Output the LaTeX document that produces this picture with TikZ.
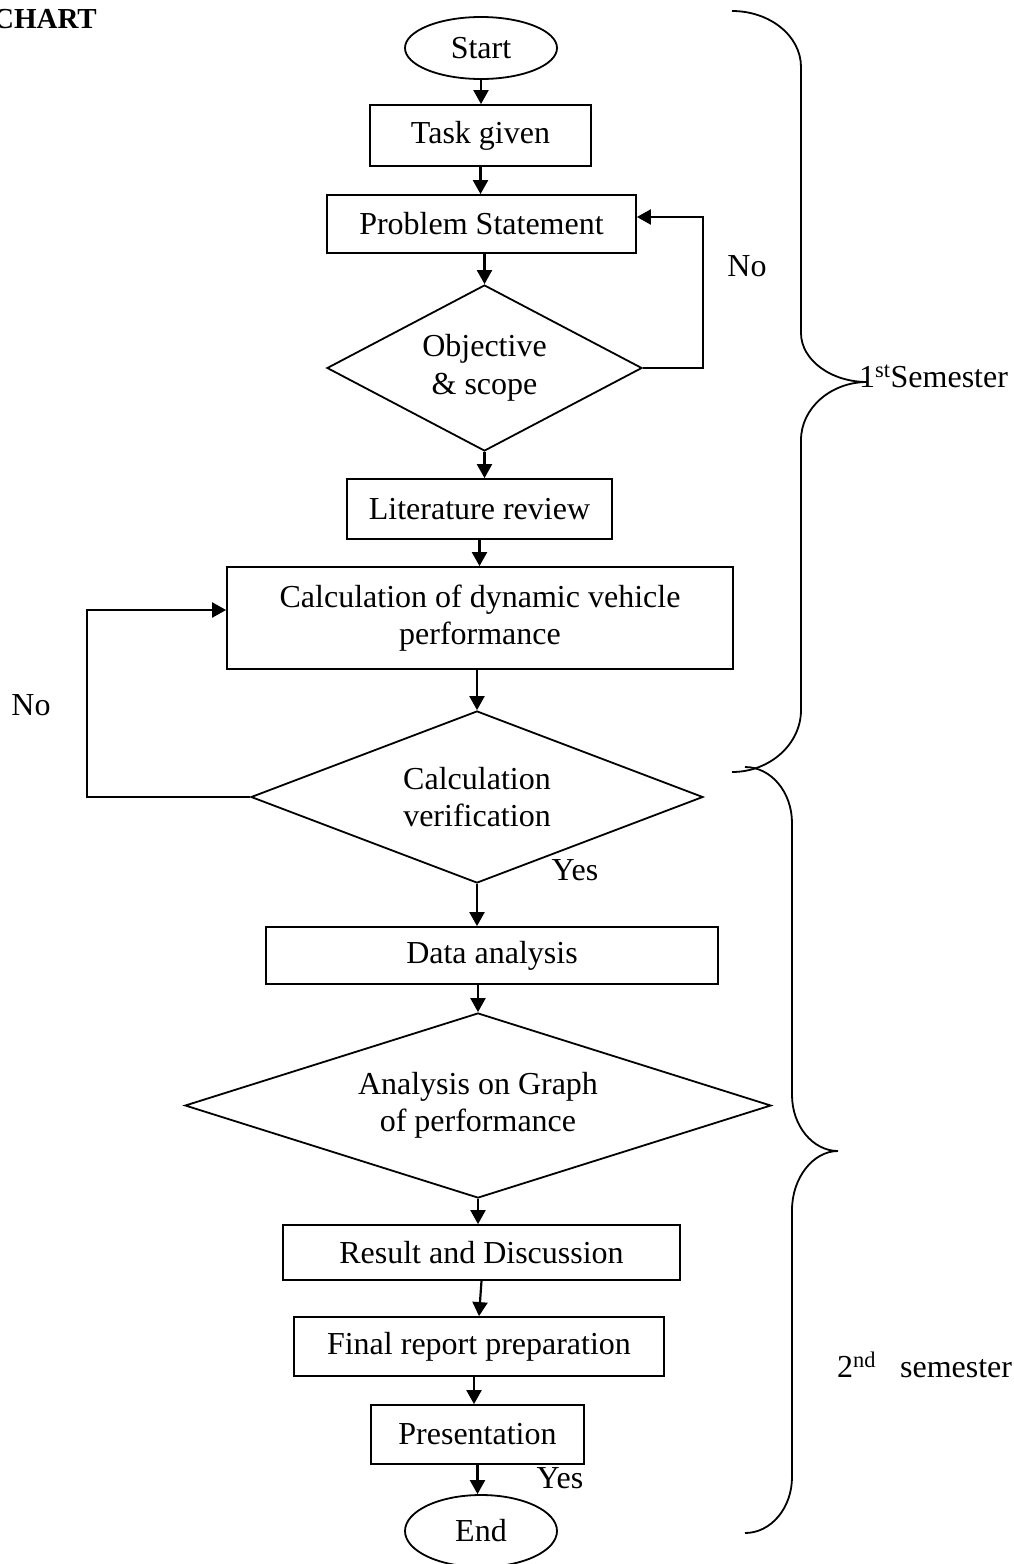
\documentclass[tikz,border=0pt]{standalone}
\usepackage{fontspec}
\setmainfont{Liberation Serif}
\usetikzlibrary{shapes.geometric,arrows.meta}
\begin{document}
\begin{tikzpicture}[x=1pt,y=-1pt,
  every node/.style={font=\fontsize{32}{37.5}\selectfont},
  box/.style={draw,line width=1.8pt,rectangle,inner sep=0pt,align=center},
  term/.style={draw,line width=1.8pt,ellipse,inner sep=0pt},
  dec/.style={draw,line width=1.8pt,diamond,inner sep=0pt,align=center},
  arr/.style={line width=2.2pt,-{Triangle[length=14pt,width=15pt]}},
  brace/.style={line width=1.8pt},
  lbl/.style={anchor=base,inner sep=0pt}]
\useasboundingbox (0,0) rectangle (1014,1564);

% title fragment
\node[anchor=base east,inner sep=0pt,font=\fontsize{29}{32}\selectfont\bfseries] (title) at (97,28) {CHART};

% nodes
\node[term,minimum width=152pt,minimum height=62pt] (start) at (481,48) {Start};
\node[box,minimum width=221pt,minimum height=61pt] (task) at (480.5,135.5) {Task given};
\node[box,minimum width=309pt,minimum height=58pt] (ps) at (481.5,224) {Problem Statement};
\node[dec,aspect=1.9,minimum width=315pt,minimum height=166pt] (d1) at (484.5,368) {Objective\\\& scope};
\node[box,minimum width=265pt,minimum height=60pt] (lit) at (479.5,509) {Literature review};
\node[box,minimum width=506pt,minimum height=102pt] (calc) at (480,618) {Calculation of dynamic vehicle\\performance};
\node[dec,aspect=2.6,minimum width=452pt,minimum height=172pt] (d2) at (477,797) {Calculation\\verification};
\node[box,minimum width=452pt,minimum height=57pt] (data) at (492,955.5) {Data analysis};
\node[dec,aspect=3.2,minimum width=586pt,minimum height=185pt] (d3) at (478,1105.5) {Analysis on Graph\\of performance};
\node[box,minimum width=397pt,minimum height=55pt] (res) at (481.5,1252.5) {Result and Discussion};
\node[box,minimum width=370pt,minimum height=59pt] (fin) at (479,1346.5) {Final report preparation};
\node[box,minimum width=213pt,minimum height=59pt] (pres) at (477.5,1434.5) {Presentation};
\node[term,minimum width=152pt,minimum height=72pt] (end) at (481,1531) {End};

% connectors
\draw[arr] (start.south) -- (start.south |- task.north);
\draw[arr] (task.south) -- (task.south |- ps.north);
\draw[arr] (d1.north |- ps.south) -- (d1.north);
\draw[arr] (d1.south) -- (d1.south |- lit.north);
\coordinate (fb) at (703,217);
\draw[arr] (d1.east) -| (fb) -- (fb -| ps.east);
\draw[arr] (lit.south) -- (lit.south |- calc.north);
\draw[arr] (d2.north |- calc.south) -- (d2.north);
\coordinate (lb) at (87,610);
\draw[arr] (d2.west) -| (lb) -- (lb -| calc.west);
\draw[arr] (d2.south) -- (d2.south |- data.north);
\draw[arr] (d3.north |- data.south) -- (d3.north);
\draw[arr] (d3.south) -- (d3.south |- res.north);
\draw[arr] (res.south) -- (fin.north);
\draw[arr] (474,1376) coordinate (c3) -- (c3 |- pres.north);
\draw[arr] (pres.south) -- (pres.south |- end.north);

% labels
\node[lbl] (no1) at (747,276) {No};
\node[lbl] (no2) at (31,715) {No};
\node[lbl] (yes1) at (575,880) {Yes};
\node[lbl] (yes2) at (560,1488) {Yes};
\node[anchor=base west,inner sep=0pt] (sem1) at (859,387) {1\textsuperscript{st}Semester};
\node[anchor=base west,inner sep=0pt] (sem2) at (837,1377) {2\textsuperscript{nd}\hspace{24pt}semester};

% braces
\draw[brace] (732,11) .. controls (770,11) and (801,36) .. (801,67) -- (801,333)
  .. controls (801,360) and (831,382) .. (867,382)
  .. controls (831,382) and (801,408) .. (801,440) -- (801,710)
  .. controls (801,744) and (770,772) .. (732,772);
\draw[brace] (745,767) .. controls (771,767) and (792,792) .. (792,823) -- (792,1095)
  .. controls (792,1126) and (813,1151) .. (838,1151)
  .. controls (813,1151) and (792,1178) .. (792,1210) -- (792,1477)
  .. controls (792,1508) and (771,1533) .. (745,1533);
\end{tikzpicture}
\end{document}
